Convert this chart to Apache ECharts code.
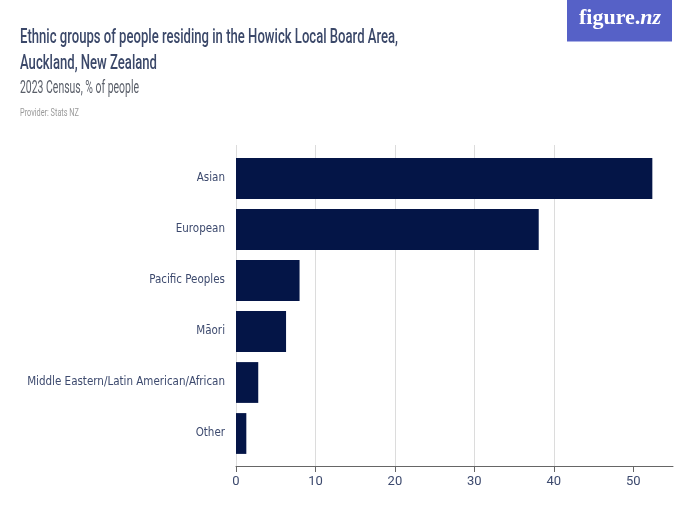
<!DOCTYPE html>
<html><head><meta charset="utf-8">
<script src="https://cdn.jsdelivr.net/npm/echarts@6/dist/echarts.min.js"></script>
<style>html,body{margin:0;padding:0;background:#fff}#c{width:700px;height:525px}</style>
</head><body><div id="c"></div>
<script>
const categories = ["Asian","European","Pacific Peoples","Māori","Middle Eastern/Latin American/African","Other"];
const values = [52.4, 38.1, 8.0, 6.3, 2.8, 1.3];
const xTicks = [0,10,20,30,40,50];

const titleLine1 = 'Ethnic groups of people residing in the Howick Local Board Area,';
const titleLine2 = 'Auckland, New Zealand';
const subtitle = '2023 Census, % of people';
const provider = 'Provider: Stats NZ';

const COND = '"DejaVu Sans Condensed", "DejaVu Sans", sans-serif';
const ctx = document.createElement('canvas').getContext('2d');
function fitScale(text, font, target) {
  ctx.font = font;
  return target / ctx.measureText(text).width;
}
function squeezedText(text, font, x, y, target, color) {
  return {type: 'text', x: x, y: y, scaleX: fitScale(text, font, target), scaleY: 1, originX: 0, originY: 0,
    style: {text: text, font: font, fill: color, verticalAlign: 'top', align: 'left'}, silent: true};
}
const titleFont = '500 20px Roboto, sans-serif';
const subFont = '17.5px Roboto, sans-serif';
const provFont = '11px Roboto, sans-serif';

const chart = echarts.init(document.getElementById('c'));
chart.setOption({
  backgroundColor: '#fff',
  animation: false,
  graphic: [
    squeezedText(titleLine1, titleFont, 20, 28, 378, '#3b4869'),
    squeezedText(titleLine2, titleFont, 20, 54, 137, '#3b4869'),
    squeezedText(subtitle, subFont, 20, 80, 119, '#5a5f69'),
    squeezedText(provider, provFont, 20, 108, 59, '#9a9a9a'),
    {type: 'rect', left: 567, top: 0, shape: {width: 105, height: 42}, style: {fill: '#5661c7'}, silent: true},
    {type: 'rect', left: 567, top: 41, shape: {width: 105, height: 1}, style: {fill: '#aab0e6'}, silent: true},
    {type: 'text', left: 579, top: 7, silent: true, style: {
      text: '{a|figure.}{b|nz}', fill: '#fff',
      rich: {a: {font: 'bold 22px "Liberation Serif", serif', fill: '#fff'},
             b: {font: 'italic bold 22px "Liberation Serif", serif', fill: '#fff'}}}}
  ],
  grid: [
    {left: 236, right: 27, top: 153, height: 306},
    {left: 236, right: 27, top: 145, height: 321}
  ],
  xAxis: [
    {gridIndex: 0, type: 'value', min: 0, max: 55, interval: 10, show: false, splitLine: {show: false}},
    {gridIndex: 1, type: 'value', min: 0, max: 55, interval: 10,
     axisLine: {show: true, lineStyle: {color: '#666', width: 1}},
     axisTick: {show: true, length: 6, customValues: xTicks, lineStyle: {color: '#666'}},
     axisLabel: {color: '#3d4a6e', fontFamily: 'Roboto, sans-serif', fontSize: 13, margin: 9, customValues: xTicks},
     splitLine: {show: true, showMaxLine: false, lineStyle: {color: '#dcdcdc', width: 1}}}
  ],
  yAxis: [
    {gridIndex: 0, type: 'category', data: categories, inverse: true,
     axisLine: {show: false}, axisTick: {show: false},
     axisLabel: {color: '#3d4a6e', fontFamily: COND, fontSize: 11.5, margin: 11}},
    {gridIndex: 1, type: 'category', data: categories, show: false}
  ],
  series: [{
    type: 'bar', xAxisIndex: 0, yAxisIndex: 0, data: values,
    barCategoryGap: '20%', itemStyle: {color: '#041547'}
  }]
});
</script></body></html>
